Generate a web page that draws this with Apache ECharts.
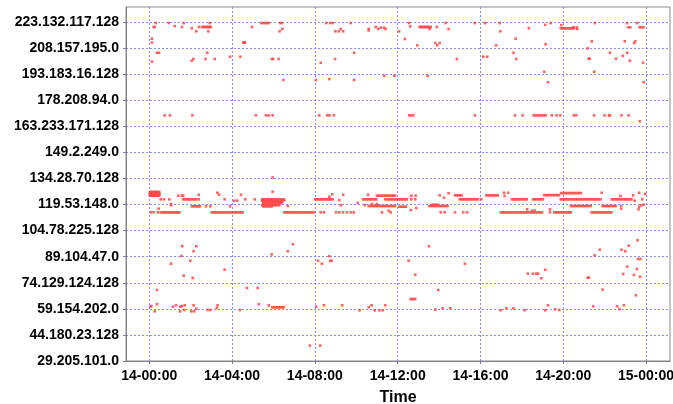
<!DOCTYPE html>
<html><head><meta charset="utf-8">
<script src="https://cdn.jsdelivr.net/npm/echarts@6/dist/echarts.min.js"></script>
<style>html,body{margin:0;padding:0;background:#fff}#c{width:673px;height:404px}</style>
</head><body><div id="c"></div>
<script>
// X: hours since 14-00:00 ; Y: IPv4 address as integer / 1e6
const xTickHours = [0, 4, 8, 12, 16, 20, 24];
const yTickValues = [500, 750, 1000, 1250, 1500, 1750, 2000, 2250, 2500, 2750, 3000, 3250, 3500, 3750];

const topRows = [
  [3740, [0.31,0.94,1.66,2.92,5.41,5.50,5.60,5.69,5.77,6.33,6.41,8.55,8.74,8.87,9.73,12.55,14.32,15.73,16.23,16.93,19.39,21.53,23.08,23.57]],
  [3724, [19.13]], [3721, [19.91]], [3711, [1.23]], [3708, [12.61]],
  [3702, [0.21,0.26,1.58,2.40,2.55,2.62,2.68,2.74,2.80,2.86,2.92,2.98,4.96,10.94,13.06,13.12,13.18,13.24,13.30,13.36,13.42,13.48,13.54,13.60,13.89]],
  [3699, [20.48,20.65,23.14,23.24,23.69,23.78,23.88]],
  [3695, [11.19,11.35]],
  [3690, [2.05,18.34,19.88,19.95,20.02,20.09,20.16,20.23,20.30,20.37,20.44,20.51]],
  [3683, [6.43,9.25,10.60,11.06,11.42,13.54,14.46,20.68]],
  [3670, [10.60]],
  [3661, [2.27,2.85,6.30,8.99,9.16,9.37,12.07,16.96]],
  [3590, [0.12,17.70]], [3587, [12.35]], [3565, [21.38,22.97,23.48]],
  [3553, [0.13,4.54,4.59,4.62]], [3548, [13.82,14.03,23.43]], [3536, [19.15]],
  [3526, [12.95,13.91,16.76]], [3497, [21.18]],
  [3455, [0.37,0.47,2.80,9.90,17.60,22.26,23.09]], [3426, [22.88]],
  [3417, [3.90,4.40,16.14,16.33]], [3398, [21.23,21.28,22.55]],
  [3395, [2.13,2.72,3.16,5.93,5.98,6.25,8.97,14.86,17.73]],
  [3379, [2.05,23.22]], [3369, [0.13]], [3359, [8.28,23.86]],
  [3273, [19.08,21.50]], [3235, [11.35,11.84,13.45]], [3203, [8.70]],
  [3194, [6.48,8.05,9.90]], [3173, [19.26,23.89]]
];

const midRows = [
  [2855, [0.74,1.00,2.08,5.15,5.64,5.77,5.96,8.21,8.60,8.71,8.92,12.56,12.63,12.75,15.73,17.67,18.04,18.57,18.66,18.76,18.86,18.96,19.06,19.16,19.45,19.68,19.86,20.51,20.63,21.49,22.00,22.21,22.26,22.82,23.16]],
  [2798, [23.70]],
  [2259, [5.96]]
];

const mainRows = [
  [2123, [5.96]],
  [2120, [0.03,0.08,0.13,0.18,0.23,0.28,0.33,0.38,0.43,0.48]],
  [2113, [3.29,17.14,17.34,21.86,23.67]],
  [2110, [19.90,19.98,20.06,20.14,20.22,20.30,20.38,20.46,20.54,20.62,20.70,20.78,20.86]],
  [2108, [0.03,0.08,0.13,0.18,0.23,0.28,0.33,0.38,0.43,0.48,14.46]],
  [2101, [23.96]],
  [2098, [8.84]],
  [2096, [0.03,0.08,0.13,0.18,0.23,0.28,0.33,0.38,0.43,0.48]],
  [2094, [2.39,3.37,4.43,9.37,10.57]],
  [2090, [19.08,19.16,19.24,19.32,19.40,19.48,19.56,19.64,19.72,19.80]],
  [2088, [14.03,14.77,14.85,14.93,15.01,15.09,16.28,16.36,16.44,16.52,16.60,16.68,16.76,16.84,23.38]],
  [2085, [0.03,0.08,0.13,0.18,0.23,0.28,0.33,0.38,0.43,0.48,1.40,1.58,1.64,11.00,11.08,11.16,11.24,11.32,11.40,11.48,11.56,11.64,11.72,11.80,11.88,12.66,12.87]],
  [2082, [17.17,22.77]],
  [2075, [8.70]],
  [2065, [14.24]],
  [2050, [0.55,0.71,0.97,1.64,1.72,1.80,1.88,1.96,2.04,2.12,2.20,2.27,2.39,3.64,4.64,5.09,5.48,8.02,8.09,8.16,8.23,8.30,8.37,8.44,8.51,8.58,8.65,8.72,8.79,8.86,10.33,10.41,10.49,10.57,10.65,10.73,10.81,10.89,10.97,11.40,11.48,11.56,11.64,11.72,11.80,11.88,11.96,12.04,12.12,12.20,12.28,12.36,12.44,12.66,12.85,15.00,15.08,15.16,15.24,15.32,15.40,15.48,15.56,15.64,15.72,15.80,15.88,16.04,17.52,17.60,17.68,17.76,17.84,17.92,18.00,18.08,18.16,18.24,18.54,18.62,18.70,18.78,18.86,18.94,19.02,19.88,19.96,20.04,20.12,20.20,20.28,20.36,20.44,20.52,20.60,20.68,20.76,20.84,20.92,21.00,21.08,21.16,21.24,21.32,21.40,21.48,21.56,21.64,21.72,21.80,22.34,22.42,22.50,22.58,22.66,22.74,22.82,22.90,22.98,23.06,23.14,23.22,23.30,23.82]],
  [2048, [5.45,5.52,5.59,5.66,5.73,5.80,5.87,5.94,6.01,6.08,6.15,6.22,6.29,6.36,6.43,6.50]],
  [2043, [6.52,9.18]],
  [2037, [4.09,4.24,5.60,23.45]],
  [2035, [5.45,5.52,5.59,5.66,5.73,5.80,5.87,5.94,6.01,6.08,6.15,6.22,6.29,6.36,6.43]],
  [2015, [5.50,5.57,5.64,5.71,5.78,5.85,5.92,5.99,6.06,6.13,6.20,6.27,6.34,6.41,10.07]],
  [2005, [1.05,10.76,11.00]],
  [1998, [13.68,13.76,13.84,13.92,23.90]],
  [1995, [5.45,5.52,5.59,5.66,5.73,5.80,5.87,5.94,6.01,6.08,6.15,6.22,6.29,10.41]],
  [1993, [1.05,9.26,23.77]],
  [1986, [6.69,10.60,10.68,10.76,10.84,10.92,11.00,11.08,11.16,11.24,11.32,11.40,11.48,11.56,11.64,11.72,11.80,11.88,13.53,13.61,13.69,13.77,13.85,13.93,14.01,14.09,14.17,14.25,14.33,14.41,20.37,20.45,20.53,20.61,20.69,20.77,20.85,20.93,21.01,21.09,21.17,21.25,21.33,21.90,21.98,22.06,22.14,22.22,22.30,22.38,22.46,22.54,22.80]],
  [1983, [2.06,2.14,2.22,2.30,2.38,2.45,2.74,2.95,3.90,5.50,5.57,5.64,5.71,5.78,5.85,5.92]],
  [1979, [12.08,12.16,12.24,12.32,12.40,23.67]],
  [1967, [12.90]],
  [1960, [0.45,22.80]],
  [1954, [18.26,19.36,23.64]],
  [1947, [12.64]],
  [1941, [11.57,18.49,18.62]],
  [1925, [0.08,0.21,0.41,0.55,0.62,0.69,0.76,0.83,0.90,0.97,1.04,1.11,1.18,1.25,1.32,1.39,1.45,3.01,3.09,3.17,3.25,3.33,3.41,3.49,3.57,3.65,3.73,3.81,3.89,3.97,4.05,4.13,4.21,4.29,4.37,4.45,4.51,6.52,6.60,6.68,6.76,6.84,6.92,7.00,7.08,7.16,7.24,7.32,7.40,7.48,7.56,7.64,7.72,7.80,7.88,7.96,8.28,8.44,9.02,9.18,9.36,9.55,9.73,9.88,11.24,11.66,14.08,14.27,14.77,15.17,15.35,16.98,17.06,17.14,17.22,17.30,17.38,17.46,17.54,17.62,17.70,17.78,17.86,17.94,18.02,18.10,18.18,18.26,18.34,18.42,18.50,18.58,18.66,18.74,18.82,18.90,18.98,19.36,19.57,19.65,19.73,19.81,19.89,19.97,20.05,20.13,20.21,20.29,20.37,21.37,21.45,21.53,21.61,21.69,21.77,21.85,21.93,22.01,22.09,22.17,22.25,22.33]]
];

const lowRows = [
  [1657, [23.59]], [1619, [6.94]], [1605, [23.17]], [1600, [1.59,2.27,13.51]],
  [1567, [21.77,22.82]], [1552, [2.14,6.69,23.00]], [1523, [5.91]], [1513, [21.52]],
  [1507, [1.55]], [1504, [8.70]], [1478, [23.61,23.73]],
  [1461, [1.98,8.15,8.74,8.81,12.53]], [1433, [1.05,8.34,15.25]], [1404, [23.09]],
  [1382, [23.56]], [1375, [3.64,19.13]], [1337, [18.29,18.54,18.70,18.79]],
  [1334, [22.90]], [1327, [12.85]], [1324, [23.42]], [1318, [1.66]], [1308, [23.71]],
  [1299, [21.19,21.24]], [1296, [2.10]], [1293, [18.94]], [1200, [4.72,5.24]],
  [1184, [21.90]], [1181, [0.37,13.96]], [1130, [23.51]], [1094, [12.63,12.70,12.78,12.85]]
];

const nearRows = [
  [1044, [0.37,5.29]],
  [1034, [1.29,1.71,2.14,3.30,5.77,8.44,9.32,10.74,11.40,19.26,22.93]],
  [1027, [0.10,1.58]], [1025, [21.45,22.60]], [1021, [0.05,1.14,1.50,8.07]],
  [1015, [5.94,6.02,6.10,6.18,6.26,6.34,6.42,6.49,10.60]],
  [1008, [3.26]], [1005, [14.17,14.54,17.25,17.60]], [1001, [2.27]], [998, [22.72]],
  [996, [19.61]], [992, [13.82]], [989, [1.69,2.82,2.95,4.38,19.81]],
  [986, [10.16,10.89,11.11,11.27,16.98,18.14,19.13]], [976, [0.26,1.48,2.03,2.17]],
  [647, [7.76,8.26]]
];

function toPoints(rows) {
  const out = [];
  rows.forEach(([ip, times]) => times.forEach(t => out.push([t, ip])));
  return out;
}
const points = [].concat(toPoints(topRows), toPoints(midRows), toPoints(mainRows), toPoints(lowRows), toPoints(nearRows));

function ipLabel(m) {
  let n = Math.round(m * 1e6);
  const a = Math.floor(n / 16777216); n -= a * 16777216;
  const b = Math.floor(n / 65536); n -= b * 65536;
  const c = Math.floor(n / 256); const d = n - c * 256;
  return a + '.' + b + '.' + c + '.' + d;
}
function timeLabel(h) {
  const day = 14 + Math.floor(h / 24);
  const hh = Math.round(h - Math.floor(h / 24) * 24);
  return day + '-' + String(hh).padStart(2, '0') + ':00';
}

const labelFont = { fontFamily: 'Liberation Sans', fontSize: 14, fontWeight: 'bold', color: '#000' };
const gridLine = { show: true, lineStyle: { color: '#6b6bff', type: [2, 2], width: 1, opacity: 0.8 } };

const chart = echarts.init(document.getElementById('c'), null, { renderer: 'canvas' });
chart.setOption({
  animation: false,
  backgroundColor: '#fff',
  grid: { left: 126, right: 3, top: 7, bottom: 43, show: true, borderColor: '#8c8c8c', borderWidth: 1, outerBoundsMode: 'none', containLabel: false },
  xAxis: {
    type: 'value', min: -1.126, max: 25.16,
    name: 'Time', nameLocation: 'middle', nameGap: 29,
    nameTextStyle: { fontFamily: 'Liberation Sans', fontSize: 16, fontWeight: 'bold', color: '#000' },
    axisLine: { show: true, onZero: false, lineStyle: { color: '#808080', width: 1 } },
    axisTick: { show: true, length: 3, customValues: xTickHours, lineStyle: { color: '#808080' } },
    axisLabel: Object.assign({ customValues: xTickHours, formatter: timeLabel, margin: 8 }, labelFont),
    splitLine: gridLine
  },
  yAxis: {
    type: 'value', min: 500, max: 3893.8,
    axisLine: { show: true, onZero: false, lineStyle: { color: '#808080', width: 1 } },
    axisTick: { show: true, length: 3, customValues: yTickValues, lineStyle: { color: '#808080' } },
    axisLabel: Object.assign({ customValues: yTickValues, formatter: ipLabel, margin: 7 }, labelFont),
    splitLine: gridLine
  },
  series: [{
    type: 'scatter', data: points, symbol: 'rect', symbolSize: 2.6,
    itemStyle: { color: 'rgb(255,72,72)', opacity: 0.85 }
  }]
});
</script></body></html>
